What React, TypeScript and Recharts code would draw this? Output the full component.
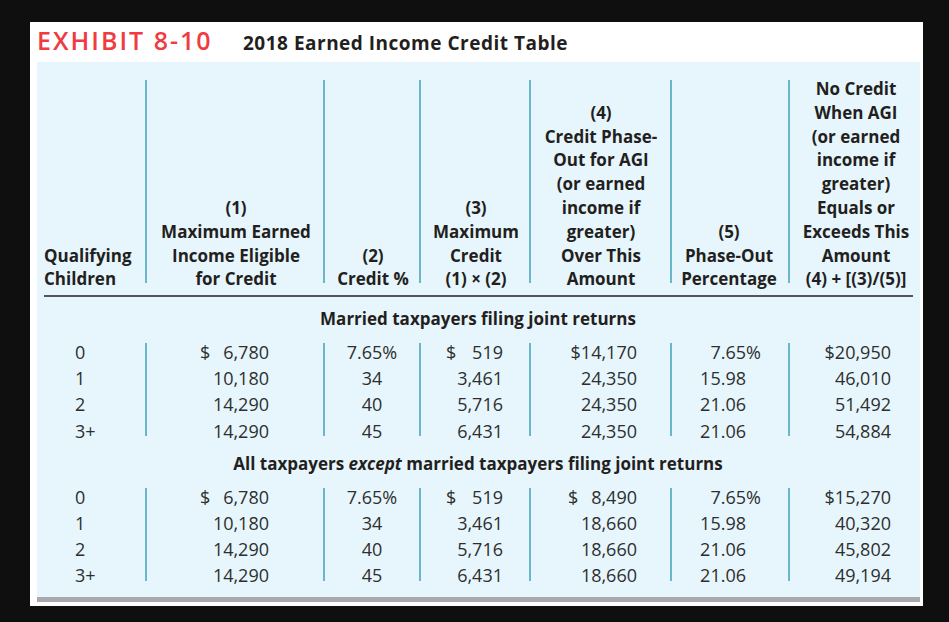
import React from 'react';
import { ScatterChart, Scatter, XAxis, YAxis, ReferenceArea, ReferenceLine } from 'recharts';

// ---------- data ----------
const qualifyingChildren = ['0', '1', '2', '3+'];
const maxEarnedIncome = [6780, 10180, 14290, 14290];
const creditPercent = [7.65, 34, 40, 45];
const maxCredit = [519, 3461, 5716, 6431];
const phaseOutStartJoint = [14170, 24350, 24350, 24350];
const phaseOutStartOther = [8490, 18660, 18660, 18660];
const phaseOutPercent = [7.65, 15.98, 21.06, 21.06];
const noCreditJoint = [20950, 46010, 51492, 54884];
const noCreditOther = [15270, 40320, 45802, 49194];

const exhibitLabel = 'EXHIBIT 8-10';
const tableTitle = '2018 Earned Income Credit Table';
const headerLines = [
  ['Qualifying', 'Children'],
  ['(1)', 'Maximum Earned', 'Income Eligible', 'for Credit'],
  ['(2)', 'Credit %'],
  ['(3)', 'Maximum', 'Credit', '(1) × (2)'],
  ['(4)', 'Credit Phase-', 'Out for AGI', '(or earned', 'income if', 'greater)', 'Over This', 'Amount'],
  ['(5)', 'Phase-Out', 'Percentage'],
  ['No Credit', 'When AGI', '(or earned', 'income if', 'greater)', 'Equals or', 'Exceeds This', 'Amount', '(4) + [(3)/(5)]'],
];
const sectionTitles = [
  ['Married taxpayers filing joint returns'],
  ['All taxpayers ', 'except', ' married taxpayers filing joint returns'],
];

// ---------- layout ----------
const W = 949;
const H = 622;
const HEAD_FONT = '"Open Sans", sans-serif';
const DARK = '#231f20';
const TEAL = '#1a8ca6';
const headerX = [44, 236, 373, 476, 601, 729, 856];
const headerAnchor = ['start', 'middle', 'middle', 'middle', 'middle', 'middle', 'middle'];
const headerBase0 = 95;
const headerStep = 23.8;
const cellX = [75, 269, 372, 503, 637, 746, 891];
const cellAnchor = ['start', 'end', 'middle', 'end', 'end', 'end', 'end'];
const dollarX = [null, 200, null, 446, 568, null, 820];
const rowBaselines = [
  [359, 385.2, 411.4, 437.5],
  [503.5, 529.7, 555.9, 582],
];
const sectionTitleY = [325, 470];
const sectionTitleX = 478;
const colLineX = [146, 324, 420, 530, 671, 789];
const headerLineSpan = [80, 283];
const rowLineSpan = [
  [343, 436],
  [488, 581],
];

const fmt = (n: number) => n.toLocaleString('en-US');

type Cell = { x: number; y: number; label: string; anchor: string; kind: string; suffix?: string };

const cells: Cell[] = [];
// title
cells.push({ x: 37, y: 50, label: exhibitLabel, anchor: 'start', kind: 'exhibit' });
cells.push({ x: 243, y: 50, label: tableTitle, anchor: 'start', kind: 'title' });
// headers
headerLines.forEach((lines, c) => {
  lines.forEach((line, i) => {
    const row = 9 - lines.length + i;
    cells.push({ x: headerX[c], y: headerBase0 + row * headerStep, label: line, anchor: headerAnchor[c], kind: 'head' });
  });
});
// sections
const sections = [
  [maxEarnedIncome, creditPercent, maxCredit, phaseOutStartJoint, phaseOutPercent, noCreditJoint],
  [maxEarnedIncome, creditPercent, maxCredit, phaseOutStartOther, phaseOutPercent, noCreditOther],
];
sections.forEach((cols, s) => {
  cells.push({ x: sectionTitleX, y: sectionTitleY[s], label: String(s), anchor: 'middle', kind: 'section' });
  qualifyingChildren.forEach((child, i) => {
    const y = rowBaselines[s][i];
    cells.push({ x: cellX[0], y, label: child, anchor: cellAnchor[0], kind: 'cell' });
    cols.forEach((vals, k) => {
      const c = k + 1;
      const v = vals[i];
      let label = '';
      let suffix: string | undefined;
      const dx = dollarX[c];
      if (c === 2) label = i === 0 ? `${v}%` : String(v);
      else if (c === 5) {
        label = v.toFixed(2);
        if (i === 0) suffix = '%';
      } else label = fmt(v);
      if (dx !== null && i === 0) {
        if (v >= 10000) label = '$' + label;
        else cells.push({ x: dx as number, y, label: '$', anchor: 'start', kind: 'cell' });
      }
      cells.push({ x: cellX[c], y, label, anchor: cellAnchor[c], kind: 'cell', suffix });
    });
  });
});

const TextShape = (props: any) => {
  const { cx, cy, payload } = props;
  if (cx == null || cy == null) return null;
  const p = payload as Cell;
  if (p.kind === 'exhibit') {
    return (
      <text x={cx} y={cy} textAnchor="start" fontFamily={HEAD_FONT} fontWeight={600} fontSize={25} fill="#ef3b41" letterSpacing={2}>
        {p.label}
      </text>
    );
  }
  if (p.kind === 'title') {
    return (
      <text x={cx} y={cy} textAnchor="start" fontFamily={HEAD_FONT} fontWeight={700} fontSize={19} fill={DARK} letterSpacing={0.5}>
        {p.label}
      </text>
    );
  }
  if (p.kind === 'head') {
    return (
      <text x={cx} y={cy} textAnchor={p.anchor} fontFamily={HEAD_FONT} fontWeight={700} fontSize={17} fill={DARK}>
        {p.label}
      </text>
    );
  }
  if (p.kind === 'section') {
    const parts = sectionTitles[Number(p.label)];
    return (
      <text x={cx} y={cy} textAnchor="middle" fontFamily={HEAD_FONT} fontWeight={700} fontSize={17} fill={DARK}>
        {parts.map((t, i) => (
          <tspan key={i} fontStyle={t === 'except' ? 'italic' : 'normal'}>
            {t}
          </tspan>
        ))}
      </text>
    );
  }
  return (
    <g>
      <text x={cx} y={cy} textAnchor={p.anchor} fontFamily={HEAD_FONT} fontWeight={400} fontSize={18} fill="#2e2e2e">
        {p.label}
      </text>
      {p.suffix ? (
        <text x={cx} y={cy} textAnchor="start" fontFamily={HEAD_FONT} fontWeight={400} fontSize={18} fill="#2e2e2e">
          {p.suffix}
        </text>
      ) : null}
    </g>
  );
};

export default function App() {
  return (
    <div style={{ position: 'absolute', left: 0, top: 0, width: W, height: H, background: '#0f0f0f' }}>
      <ScatterChart width={W} height={H} margin={{ top: 0, right: 0, bottom: 0, left: 0 }}>
        <XAxis type="number" dataKey="x" domain={[0, W]} hide />
        <YAxis type="number" dataKey="y" domain={[0, H]} reversed hide />
        <ReferenceArea x1={30} x2={923} y1={22} y2={606} fill="#ffffff" fillOpacity={1} stroke="none" />
        <ReferenceArea x1={37} x2={920} y1={62} y2={597} fill="#e7f6fd" fillOpacity={1} stroke="none" />
        <ReferenceArea x1={37} x2={920} y1={597} y2={602} fill="#a8a9ad" fillOpacity={1} stroke="none" />
        <ReferenceLine segment={[{ x: 44, y: 296 }, { x: 913, y: 296 }]} stroke={DARK} strokeWidth={1.3} />
        {colLineX.map((x) => (
          <ReferenceLine key={`h${x}`} segment={[{ x, y: headerLineSpan[0] }, { x, y: headerLineSpan[1] }]} stroke={TEAL} strokeWidth={1.2} />
        ))}
        {rowLineSpan.map((span, s) =>
          colLineX.map((x) => (
            <ReferenceLine key={`r${s}-${x}`} segment={[{ x, y: span[0] }, { x, y: span[1] }]} stroke={TEAL} strokeWidth={1.2} />
          ))
        )}
        <Scatter data={cells} shape={TextShape} isAnimationActive={false} />
      </ScatterChart>
    </div>
  );
}
